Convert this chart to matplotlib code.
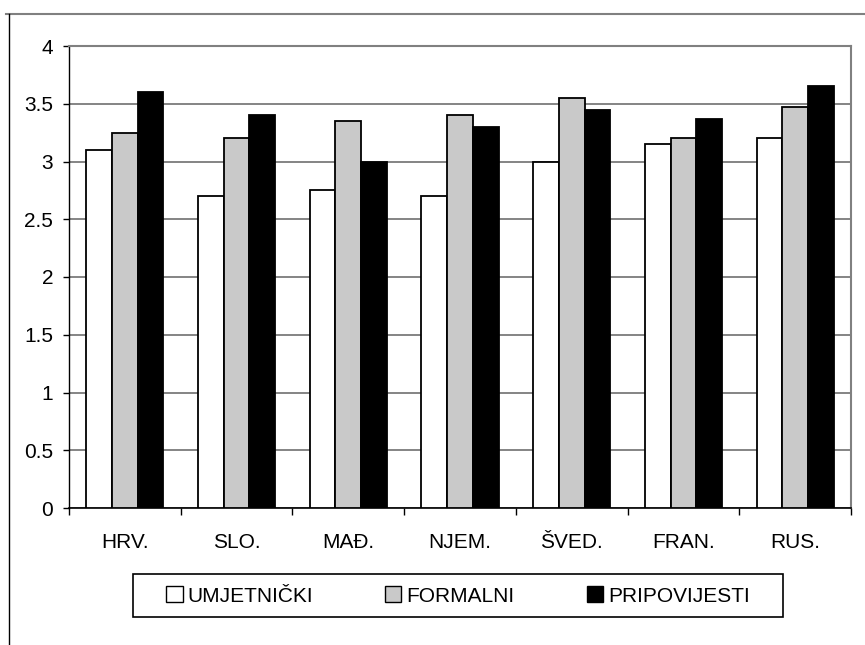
import matplotlib
matplotlib.use('Agg')
import matplotlib.pyplot as plt
import numpy as np
from matplotlib.lines import Line2D
from matplotlib.patches import Rectangle

plt.rcParams['font.family'] = ['Liberation Sans', 'DejaVu Sans']

categories = ['HRV.', 'SLO.', 'MAĐ.', 'NJEM.', 'ŠVED.', 'FRAN.', 'RUS.']
umjetnicki = [3.1, 2.7, 2.75, 2.7, 3.0, 3.15, 3.2]
formalni = [3.25, 3.2, 3.35, 3.4, 3.55, 3.2, 3.47]
pripovijesti = [3.6, 3.4, 3.0, 3.3, 3.45, 3.37, 3.65]
series_names = ['UMJETNIČKI', 'FORMALNI', 'PRIPOVIJESTI']
yticks = [0, 0.5, 1, 1.5, 2, 2.5, 3, 3.5, 4]

fig = plt.figure(figsize=(8.65, 6.45), dpi=100)
W, H = 865., 645.
ax = fig.add_axes([69/W, 1 - 508/H, (851-69)/W, (508-46)/H])

# outer chart frame (top and left only visible)
fig.add_artist(Line2D([6/W, 1], [1 - 14/H, 1 - 14/H], color='#808080', lw=1.5))
fig.add_artist(Line2D([9/W, 9/W], [0, 1 - 14/H], color='black', lw=1.0))

x = np.arange(len(categories))
bw = 0.23
ax.bar(x - bw, umjetnicki, bw, color='white', edgecolor='black', lw=1.3, zorder=3)
ax.bar(x, formalni, bw, color='#c9c9c9', edgecolor='black', lw=1.3, zorder=3)
ax.bar(x + bw, pripovijesti, bw, color='black', edgecolor='black', lw=1.3, zorder=3)

ax.set_xlim(-0.5, len(categories) - 0.5)
ax.set_ylim(0, 4)
ax.set_yticks(yticks)
ax.set_yticklabels([('%g' % v) for v in yticks])
ax.yaxis.grid(True, color='#707070', lw=1.2)
ax.set_axisbelow(True)

ax.set_xticks(x)
ax.set_xticklabels(categories)
ax.set_xticks(np.arange(len(categories) + 1) - 0.5, minor=True)
ax.tick_params(axis='x', which='major', length=0, pad=18, labelsize=15)
ax.tick_params(axis='x', which='minor', length=5, direction='out', width=1)
ax.tick_params(axis='y', length=4.5, direction='out', width=1, labelsize=15, pad=7)

ax.spines['top'].set_color('#808080')
ax.spines['right'].set_color('#808080')
ax.spines['top'].set_linewidth(1.5)
ax.spines['right'].set_linewidth(1.5)
ax.spines['left'].set_linewidth(1.0)
ax.spines['bottom'].set_linewidth(1.2)

# legend box
fig.add_artist(Rectangle((133/W, 1 - 617/H), (783-133)/W, (617-574)/H,
                         transform=fig.transFigure, facecolor='white',
                         edgecolor='black', lw=1.2, zorder=4))
handles = [Rectangle((0, 0), 1, 1, facecolor=c, edgecolor='black', lw=1)
           for c in ['white', '#c9c9c9', 'black']]
leg = fig.legend(handles, series_names, ncol=3, loc='center',
                 bbox_to_anchor=(458 / W, 1 - 596/H),
                 fontsize=15, frameon=False,
                 handlelength=0.77, handleheight=0.77, handletextpad=0.25,
                 columnspacing=3.45, borderpad=0, borderaxespad=0)
leg.set_zorder(5)

fig.savefig('out.png', dpi=100)
